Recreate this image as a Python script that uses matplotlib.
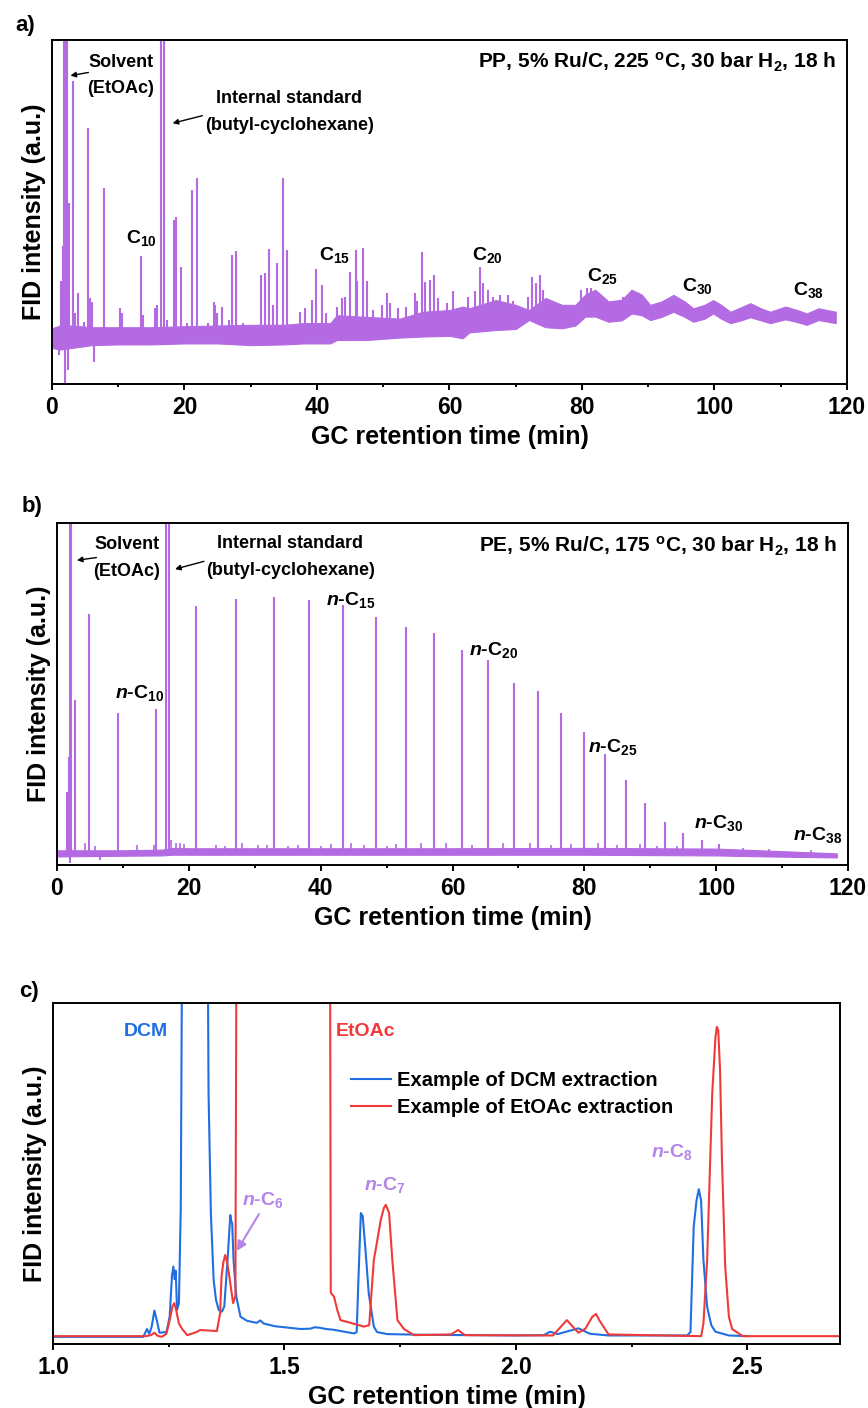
import numpy as np
import matplotlib
matplotlib.use('Agg')
import matplotlib.pyplot as plt
from matplotlib.ticker import MultipleLocator

plt.rcParams.update({
    'font.family': ['Liberation Sans', 'DejaVu Sans'],
    'font.weight': 'bold',
    'axes.labelweight': 'bold',
    'mathtext.fontset': 'custom',
    'mathtext.rm': 'Liberation Sans:bold',
    'mathtext.it': 'Liberation Sans:italic:bold',
    'mathtext.bf': 'Liberation Sans:bold',
    'mathtext.default': 'rm',
})

PURPLE = '#B36AE2'
LABEL_PURPLE = '#B584E8'
BLUE = '#1F6FE0'
RED = '#F03A3A'

# ---------------- Panel a data (PP) ----------------
a_band_t = [0, 1.2, 3, 6, 10, 15, 20, 25, 30, 35, 38, 42, 43, 47.5, 52.5, 56, 60, 62, 63, 67,
            70, 72, 74.5, 77, 79, 80.5, 82, 84, 86, 87.5, 89, 90.3, 92, 93.8, 95.5, 96.8, 98.5,
            99.8, 101, 102.4, 104, 105.4, 107, 108.4, 110.7, 112.5, 113.9, 115.7, 118.3]
a_band_lo = [10.5, 10, 10.5, 11.3, 11.5, 11.5, 11.8, 11.8, 11.3, 11.5, 11.8, 11.8, 12.8, 12.8, 13.5,
             13.8, 14, 13.3, 15, 15.7, 16, 18.6, 16.5, 16.2, 17, 19.6, 19.6, 18.1, 18.5, 20.5, 20,
             18.6, 19.5, 21, 19.5, 18.1, 19, 20.5, 19, 17.7, 18.5, 19.4, 18.5, 17.7, 18.8, 18, 17.2,
             18.6, 17.7]
a_band_hi = [16.2, 17, 17, 16.5, 16.5, 16.5, 16.8, 17, 17.2, 17.2, 17.7, 17.7, 20, 19.5, 19, 21,
             21.5, 22.5, 22, 24.4, 23, 21.5, 25, 23, 23, 26, 27.4, 24, 24.5, 27.4, 26, 23, 24, 25.9,
             24, 22, 23, 24.4, 23, 21, 22.3, 23.5, 22, 21, 22.5, 21.5, 20.5, 22, 21]

a_peak_t = [1.4, 1.6, 1.75, 1.9, 2.05, 2.2, 2.6, 3.1, 3.5, 3.9, 4.8, 5.5, 5.8, 6.1, 7.85, 10.3, 10.5,
            13.4, 13.7, 15.6, 15.8, 16.45, 16.9, 17.4, 18.4, 18.7, 19.4, 20.4, 21.2, 21.9, 22.1,
            23.6, 24.4, 24.6, 24.9, 25.7, 26.7, 27.2, 27.8, 28.9, 29.7, 31.6, 32.1, 32.8, 33.4,
            34.0, 34.8, 35.5, 36.2, 37.4, 38.2, 39.2, 39.8, 40.8, 41.4, 43.0, 43.7, 44.2, 45.0,
            45.9, 46.1, 46.9, 47.6, 48.5, 49.0, 49.8, 50.5, 51.0, 52.3, 53.5, 54.8, 55.1, 55.8,
            56.3, 57.0, 57.6, 58.3, 59.6, 60.6, 61.6, 62.8, 63.8, 64.6, 65.1, 65.8, 66.6, 67.6,
            68.9, 69.6, 70.6, 71.9, 72.5, 73.0, 73.6, 74.1, 75.2, 76.7, 78.4, 79.9, 80.7, 81.4,
            83.2, 84.7, 86.2, 87.5, 88.7]
a_peak_h = [30, 40, 150, 150, 150, 150, 52.6, 88, 20.5, 26.4, 18.1, 74.4, 24.9, 23.9, 57, 22, 20.5,
            37.2, 20, 22, 23, 150, 150, 18.6, 47.7, 48.6, 34, 17.7, 56.4, 59.9, 16.7,
            17.7, 23.9, 23, 20.5, 22.5, 18.6, 37.5, 38.8, 17.7, 17.2, 31.7, 32.2, 39.1, 23,
            35.1, 59.9, 38.9, 16.7, 21, 22, 24.4, 33.5, 28.8, 20.5, 22.5, 24.9, 25.4, 32.6,
            38.9, 29.9, 39.4, 29.9, 21.5, 19.1, 23, 26.4, 23.5, 22, 22.5, 26.4, 24, 38.5,
            29.7, 30.2, 31.7, 24.9, 23.5, 26.9, 21.5, 25.4, 26.9, 33.9, 29.3, 27.4, 25.4, 25.9,
            25.9, 24, 21, 25.4, 31.2, 29.3, 31.7, 27.4, 23, 21.5, 22.5, 27.4, 27.9, 27.9,
            24, 23, 25.4, 27.4, 24.4]
a_dip_t = [1.1, 2.0, 2.4, 6.3]
a_dip_h = [8.5, -3, 4, 6.5]

# ---------------- Panel b data (PE) ----------------
b_band_t = [0, 10, 16, 17.5, 20, 40, 60, 80, 100, 108, 118.3]
b_band_lo = [2.5, 2.7, 2.8, 3.0, 3.0, 3.0, 3.0, 3.0, 2.8, 2.5, 2.2]
b_band_hi = [4.3, 4.3, 4.5, 5.0, 4.9, 4.9, 4.9, 5.0, 4.8, 4.2, 3.4]

b_peak_t = [1.5, 1.75, 1.95, 2.1, 2.73, 4.86, 9.3, 15.0, 16.6, 17.05, 21.1, 27.2, 32.9, 38.3, 43.4,
            48.4, 52.9, 57.2, 61.5, 65.4, 69.3, 73.0, 76.5, 79.9, 83.2, 86.3, 89.2, 92.2, 95.0,
            97.8, 100.5]
b_peak_h = [21.4, 31.7, 150, 150, 48.2, 73.4, 44.3, 45.6, 150, 150, 75.7, 77.8, 78.5, 77.5, 76,
            72.6, 69.7, 67.7, 62.9, 59.9, 53.1, 51, 44.3, 39, 32.6, 24.9, 18.2, 12.7, 9.5,
            7.3, 6.1]
b_small_t = [4.3, 5.8, 12.2, 14.7, 17.3, 18.0, 18.6, 19.2, 24.1, 25.5, 28.1, 30.5, 31.8, 35.0,
             36.5, 40.0, 41.5, 44.6, 46.5, 50.0, 51.5, 55.2, 59.0, 63.0, 67.7, 71.8, 75.0, 78.0,
             82.0, 85.0, 88.5, 91.0, 94.0, 104.0, 108.0, 114.4]
b_small_h = [6.3, 5.5, 5.8, 5.8, 7.3, 6.3, 6.5, 6.0, 5.8, 5.5, 6.3, 5.8, 5.8, 5.6, 5.8, 5.6, 6.0,
             6.3, 5.8, 5.6, 6.0, 6.5, 6.3, 5.8, 6.3, 6.3, 5.8, 6.0, 6.5, 5.8, 6.0, 5.5, 5.6, 5.0,
             4.8, 4.5]
b_dip_t = [2.0, 6.5]
b_dip_h = [0.6, 1.5]

# ---------------- Panel c data ----------------
dcm_t = [1.00, 1.195, 1.203, 1.208, 1.213, 1.219, 1.225, 1.230, 1.245, 1.252, 1.257, 1.260, 1.263,
         1.265, 1.268, 1.272, 1.276, 1.280, 1.333, 1.336, 1.341, 1.347, 1.352, 1.358, 1.365,
         1.370, 1.377, 1.383, 1.385, 1.387, 1.390, 1.396, 1.405, 1.419, 1.44, 1.448, 1.455,
         1.48, 1.535, 1.556, 1.565, 1.574, 1.59, 1.605, 1.650, 1.656, 1.660, 1.665, 1.669,
         1.675, 1.682, 1.693, 1.70, 1.722, 1.80, 2.0, 2.06, 2.074, 2.09, 2.135, 2.16, 2.20,
         2.37, 2.377, 2.384, 2.390, 2.395, 2.400, 2.405, 2.413, 2.422, 2.431, 2.46, 2.50]
dcm_y = [2.1, 2.1, 4.4, 3.0, 5.0, 9.8, 6.5, 3.3, 3.5, 8, 20, 22.7, 19, 21.5, 10, 12, 40, 150, 150,
         73.6, 38.4, 18.8, 13, 10, 9.5, 11, 24.6, 37.8, 36, 35.5, 24.6, 13.9, 8, 6.8, 6.2, 6.9,
         6.0, 5.2, 4.4, 4.5, 4.9, 4.8, 4.4, 4.2, 3.1, 3.5, 20, 38.4, 37.5, 27.6, 14.9, 5.1, 3.5,
         2.9, 2.7, 2.5, 2.6, 3.6, 2.9, 4.6, 3.0, 2.5, 2.5, 3.5, 34.4, 42, 45.4, 42, 24.6, 10.9,
         5.5, 3.6, 2.5, 2.3]
etoac_t = [1.00, 1.20, 1.212, 1.219, 1.226, 1.235, 1.245, 1.252, 1.258, 1.262, 1.266, 1.272,
           1.279, 1.29, 1.31, 1.318, 1.354, 1.361, 1.364, 1.368, 1.372, 1.376, 1.380, 1.389,
           1.394, 1.397, 1.598, 1.600, 1.607, 1.614, 1.621, 1.643, 1.672, 1.683, 1.693, 1.700,
           1.708, 1.715, 1.719, 1.726, 1.733, 1.744, 1.758, 1.78, 1.86, 1.875, 1.89, 2.08, 2.10,
           2.110, 2.12, 2.135, 2.15, 2.165, 2.173, 2.18, 2.20, 2.40, 2.405, 2.413, 2.424, 2.431,
           2.434, 2.437, 2.441, 2.445, 2.452, 2.460, 2.467, 2.49, 2.70]
etoac_y = [2.3, 2.3, 2.6, 3.3, 2.4, 2.1, 3, 7, 11, 12, 10, 6, 4.4, 2.6, 3.5, 4.1, 3.8, 9, 19.7,
           24, 26.1, 24, 20.7, 12, 14, 150, 150, 15, 13.9, 10, 7, 6.2, 5.1, 5.5, 24.6, 30, 36.4,
           40, 40.8, 38.4, 24.6, 7, 4.4, 2.6, 2.8, 4.1, 2.6, 2.5, 5.5, 7, 5.5, 3.3, 4.5, 8, 8.8,
           7, 2.8, 2.3, 6, 24.6, 73.5, 90, 93, 92, 80, 54, 22.7, 8, 4.4, 2.3, 2.3]

# ---------------- Figure ----------------
fig = plt.figure(figsize=(8.68, 14.08), dpi=100)
W, H = 868, 1408


def ax_px(l, t, r, b):
    return fig.add_axes([l / W, 1 - b / H, (r - l) / W, (b - t) / H])


def style(ax, xlim, major, minor):
    ax.set_xlim(*xlim)
    ax.set_ylim(0, 100)
    ax.set_yticks([])
    ax.xaxis.set_major_locator(MultipleLocator(major))
    ax.xaxis.set_minor_locator(MultipleLocator(minor))
    ax.tick_params(axis='x', which='major', direction='out', length=4.3, width=1.4,
                   labelsize=16.5, pad=4.5)
    ax.tick_params(axis='x', which='minor', direction='out', length=2.4, width=1.4)
    for s in ax.spines.values():
        s.set_linewidth(1.4)
    ax.set_xlabel('GC retention time (min)', fontsize=18, labelpad=4)
    ax.set_ylabel('FID intensity (a.u.)', fontsize=18, labelpad=4)


arrow_k = dict(arrowstyle='-|>', color='black', lw=1.0, mutation_scale=8)

# Panel a
axa = ax_px(52, 40, 847, 384)
foot = np.interp(a_peak_t, a_band_t, a_band_lo)
axa.fill_between(a_band_t, a_band_lo, a_band_hi, color=PURPLE, lw=0.8, edgecolor=PURPLE)
axa.vlines(a_peak_t, foot, a_peak_h, color=PURPLE, lw=1.5)
axa.vlines(a_dip_t, np.interp(a_dip_t, a_band_t, a_band_lo), a_dip_h, color=PURPLE, lw=1.5)
style(axa, (0, 120), 20, 10)
axa.text(10.4, 93.6, 'Solvent', ha='center', va='center', fontsize=13)
axa.text(10.4, 86, '(EtOAc)', ha='center', va='center', fontsize=13)
axa.annotate('', xy=(2.37, 89.5), xytext=(5.9, 90.7), arrowprops=arrow_k)
axa.text(35.7, 83, 'Internal standard', ha='center', va='center', fontsize=13)
axa.text(35.9, 75, '(butyl-cyclohexane)', ha='center', va='center', fontsize=13)
axa.annotate('', xy=(17.8, 75.6), xytext=(23.1, 78.2), arrowprops=arrow_k)
for t, y, s in [(13.5, 42.4, '10'), (42.7, 37.5, '15'), (65.7, 37.4, '20'),
                (83.1, 31.5, '25'), (97.4, 28.4, '30'), (114.2, 27.2, '38')]:
    axa.text(t, y, 'C$_{%s}$' % s, ha='center', va='center', fontsize=14)
axa.text(118.3, 93.4, r'PP, 5% Ru/C, 225 $^{o}$C, 30 bar H$_{2}$, 18 h', ha='right',
         va='center', fontsize=15)

# Panel b
axb = ax_px(57, 523, 848, 865)
axb.fill_between(b_band_t, b_band_lo, b_band_hi, color=PURPLE, lw=0.8, edgecolor=PURPLE)
axb.vlines(b_peak_t, np.interp(b_peak_t, b_band_t, b_band_lo), b_peak_h, color=PURPLE, lw=1.5)
axb.vlines(b_small_t, np.interp(b_small_t, b_band_t, b_band_lo), b_small_h, color=PURPLE, lw=1.2)
axb.vlines(b_dip_t, np.interp(b_dip_t, b_band_t, b_band_lo), b_dip_h, color=PURPLE, lw=1.5)
style(axb, (0, 120), 20, 10)
axb.text(10.6, 93.6, 'Solvent', ha='center', va='center', fontsize=13)
axb.text(10.6, 85.8, '(EtOAc)', ha='center', va='center', fontsize=13)
axb.annotate('', xy=(2.6, 89), xytext=(6.4, 90), arrowprops=arrow_k)
axb.text(35.4, 93.9, 'Internal standard', ha='center', va='center', fontsize=13)
axb.text(35.5, 86, '(butyl-cyclohexane)', ha='center', va='center', fontsize=13)
axb.annotate('', xy=(17.5, 86.3), xytext=(22.7, 89), arrowprops=arrow_k)
for t, y, s in [(12.6, 50.3, '10'), (44.5, 77.5, '15'), (66.3, 62.9, '20'),
                (84.3, 34.6, '25'), (100.3, 12.2, '30'), (115.4, 8.8, '38')]:
    axb.text(t, y, r'$\mathit{n}$-C$_{%s}$' % s, ha='center', va='center', fontsize=14)
axb.text(118.3, 93.3, r'PE, 5% Ru/C, 175 $^{o}$C, 30 bar H$_{2}$, 18 h', ha='right',
         va='center', fontsize=15)

# Panel c
axc = ax_px(53, 1003, 840, 1344)
axc.plot(dcm_t, dcm_y, color=BLUE, lw=1.5, label='Example of DCM extraction')
axc.plot(etoac_t, etoac_y, color=RED, lw=1.5, label='Example of EtOAc extraction')
style(axc, (1.0, 2.7), 0.5, 0.25)
axc.xaxis.set_major_formatter(matplotlib.ticker.FormatStrFormatter('%.1f'))
axc.text(1.2, 91.6, 'DCM', color=BLUE, ha='center', va='center', fontsize=14)
axc.text(1.675, 91.6, 'EtOAc', color=RED, ha='center', va='center', fontsize=14)
axc.text(1.4535, 42.2, r'$\mathit{n}$-C$_{6}$', color=LABEL_PURPLE, ha='center', va='center', fontsize=14)
axc.text(1.716, 46.6, r'$\mathit{n}$-C$_{7}$', color=LABEL_PURPLE, ha='center', va='center', fontsize=14)
axc.text(2.337, 56.4, r'$\mathit{n}$-C$_{8}$', color=LABEL_PURPLE, ha='center', va='center', fontsize=14)
axc.annotate('', xy=(1.394, 26.6), xytext=(1.448, 38.8),
             arrowprops=dict(arrowstyle='-|>', color=LABEL_PURPLE, lw=1.5, mutation_scale=14))
axc.legend(loc='upper left', bbox_to_anchor=(0.379, 0.80), frameon=False, fontsize=14.5,
           handlelength=1.95, handletextpad=0.3, labelspacing=0.4, borderpad=0, borderaxespad=0)

fig.text(25 / W, 1 - 25 / H, 'a)', fontsize=16, ha='center', va='center')
fig.text(32 / W, 1 - 506.7 / H, 'b)', fontsize=16, ha='center', va='center')
fig.text(29 / W, 1 - 991.7 / H, 'c)', fontsize=16, ha='center', va='center')

fig.savefig('out.png', dpi=100)
